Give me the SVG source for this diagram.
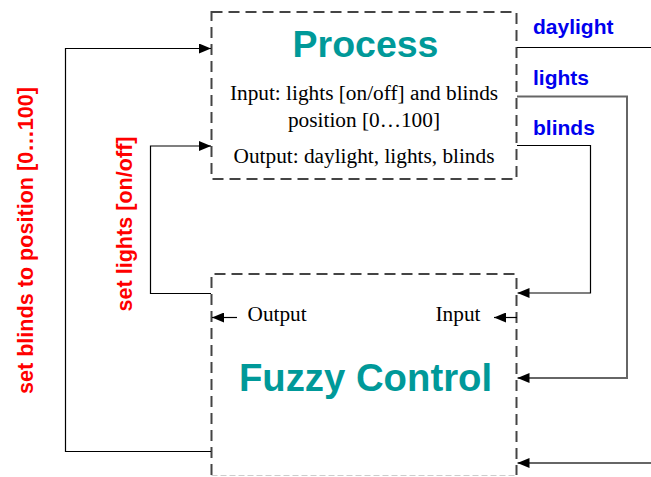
<svg xmlns="http://www.w3.org/2000/svg" width="651" height="477" viewBox="0 0 651 477">
<style>
.box{fill:#fff;stroke:#444;stroke-width:2;stroke-dasharray:11,6}
.title{font-family:"Liberation Sans",Arial,sans-serif;font-weight:bold;fill:#009999;text-anchor:middle}
.body{font-family:"Liberation Serif","Times New Roman",serif;font-size:21.3px;fill:#000}
.blue{font-family:"Liberation Sans",Arial,sans-serif;font-weight:bold;font-size:21px;fill:#0000ee}
.red{font-family:"Liberation Sans",Arial,sans-serif;font-weight:bold;font-size:21.6px;fill:#ff0000;text-anchor:middle}
.ln{fill:none;stroke:#000;stroke-width:1.2}
.gl{fill:none;stroke:#666;stroke-width:2}
</style>
<defs>
<marker id="ah" viewBox="0 0 12 10" refX="12" refY="5" markerWidth="12" markerHeight="10" markerUnits="userSpaceOnUse" orient="auto">
<path d="M0,0 L12,5 L0,10 z" fill="#000"/>
</marker>
</defs>
<g id="process">
<rect class="box" x="211.5" y="12" width="305" height="167"/>
<text class="title" x="365.5" y="57" font-size="37.5">Process</text>
<text class="body" x="364" y="100" text-anchor="middle">Input: lights [on/off] and blinds</text>
<text class="body" x="364" y="126.5" text-anchor="middle">position [0…100]</text>
<text class="body" x="364" y="163" text-anchor="middle">Output: daylight, lights, blinds</text>
</g>
<g id="fuzzy">
<path d="M211.5,475 V274 H516.5 V475" fill="#fff" stroke="#444" stroke-width="2" stroke-dasharray="11,6"/>
<path d="M211.5,475.5 H516.5" fill="none" stroke="#ccc" stroke-width="1" stroke-dasharray="6,3"/>
<text class="title" x="365.5" y="391" font-size="38.3">Fuzzy Control</text>
<text class="body" x="247.5" y="321">Output</text>
<text class="body" x="435.5" y="321">Input</text>
</g>
<g id="labels">
<text class="blue" x="533" y="34">daylight</text>
<text class="blue" x="533" y="85">lights</text>
<text class="blue" x="533" y="135">blinds</text>
<text class="red" transform="translate(33,240.5) rotate(-90)">set blinds to position [0…100]</text>
<text class="red" transform="translate(132,224) rotate(-90)">set lights [on/off]</text>
</g>
<g id="connectors">
<path class="ln" d="M517,47.5 H651"/>
<path class="gl" d="M517,96.5 H627 V378 H517.5" marker-end="url(#ah)"/>
<path class="ln" d="M517,145.5 H590.5 V293 H517.5" marker-end="url(#ah)"/>
<path class="gl" d="M651,463 H517.5" marker-end="url(#ah)"/>
<path class="ln" d="M211,451.5 H65.5 V48.5 H211" marker-end="url(#ah)"/>
<path class="ln" d="M211,293.5 H150.5 V146 H211" marker-end="url(#ah)"/>
<path class="ln" d="M237,317.5 H212" marker-end="url(#ah)"/>
<path class="ln" d="M517,317.5 H494" marker-end="url(#ah)"/>
</g>
</svg>
